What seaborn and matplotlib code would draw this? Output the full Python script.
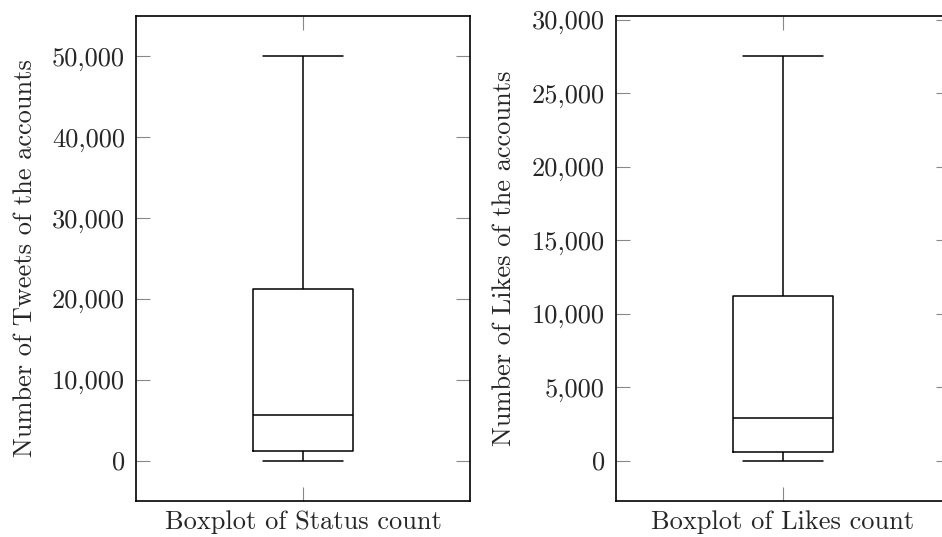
import matplotlib
matplotlib.use("Agg")
import matplotlib.pyplot as plt
import matplotlib.ticker as mticker
import seaborn as sns
import numpy as np
import pandas as pd

# five-number summaries: min, Q1, median, Q3, max
status_count = [0, 1190, 5630, 21240, 50000]
likes_count = [0, 565, 2920, 11230, 27500]

status_label = "Boxplot of Status count"
likes_label = "Boxplot of Likes count"
status_ylabel = "Number of Tweets of the accounts"
likes_ylabel = "Number of Likes of the accounts"

status_ticks = [0, 10000, 20000, 30000, 40000, 50000]
likes_ticks = [0, 5000, 10000, 15000, 20000, 25000, 30000]

sns.set_style("white")
plt.rcParams["font.family"] = ["cmr10", "DejaVu Serif"]
plt.rcParams["axes.formatter.use_mathtext"] = True
plt.rcParams["mathtext.fontset"] = "cm"

fig = plt.figure(figsize=(9.42, 5.37), dpi=100)
ax1 = fig.add_axes([136 / 942, 1 - 501 / 537, 334 / 942, 485 / 537])
ax2 = fig.add_axes([616 / 942, 1 - 501 / 537, 334 / 942, 485 / 537])


def draw_box(ax, values, xlabel, ylabel, ticks, ylim):
    df = pd.DataFrame({"grupo": xlabel, "valor": values})
    sns.boxplot(data=df, x="grupo", y="valor", ax=ax, whis=(0, 100), width=0.3,
                fill=False, color="black", linewidth=1.1, showfliers=False)
    # caps as wide as pgfplots draws them (80% of the box)
    for ln in ax.lines:
        xd = np.asarray(ln.get_xdata(), dtype=float)
        yd = np.asarray(ln.get_ydata(), dtype=float)
        if len(xd) == 2 and yd[0] == yd[1] and yd[0] in (values[0], values[-1]):
            ln.set_xdata([-0.12, 0.12])
    ax.set_xlim(-0.5, 0.5)
    ax.set_ylim(*ylim)
    ax.set_yticks(ticks)
    ax.yaxis.set_major_formatter(mticker.StrMethodFormatter("{x:,.0f}"))
    ax.set_xticks([0])
    ax.set_xticklabels([""])
    ax.set_xlabel(xlabel, fontsize=19, labelpad=-1)
    ax.set_ylabel(ylabel, fontsize=19, labelpad=11)
    ax.tick_params(axis="both", direction="in", length=10, width=0.8, color="#888888",
                   top=True, right=True, left=True, bottom=True, labelsize=19, pad=8)
    for s in ax.spines.values():
        s.set_color("black")
        s.set_linewidth(1.2)


draw_box(ax1, status_count, status_label, status_ylabel, status_ticks, (-5000, 55000))
draw_box(ax2, likes_count, likes_label, likes_ylabel, likes_ticks, (-2750, 30250))

plt.savefig("out.png", dpi=100)
